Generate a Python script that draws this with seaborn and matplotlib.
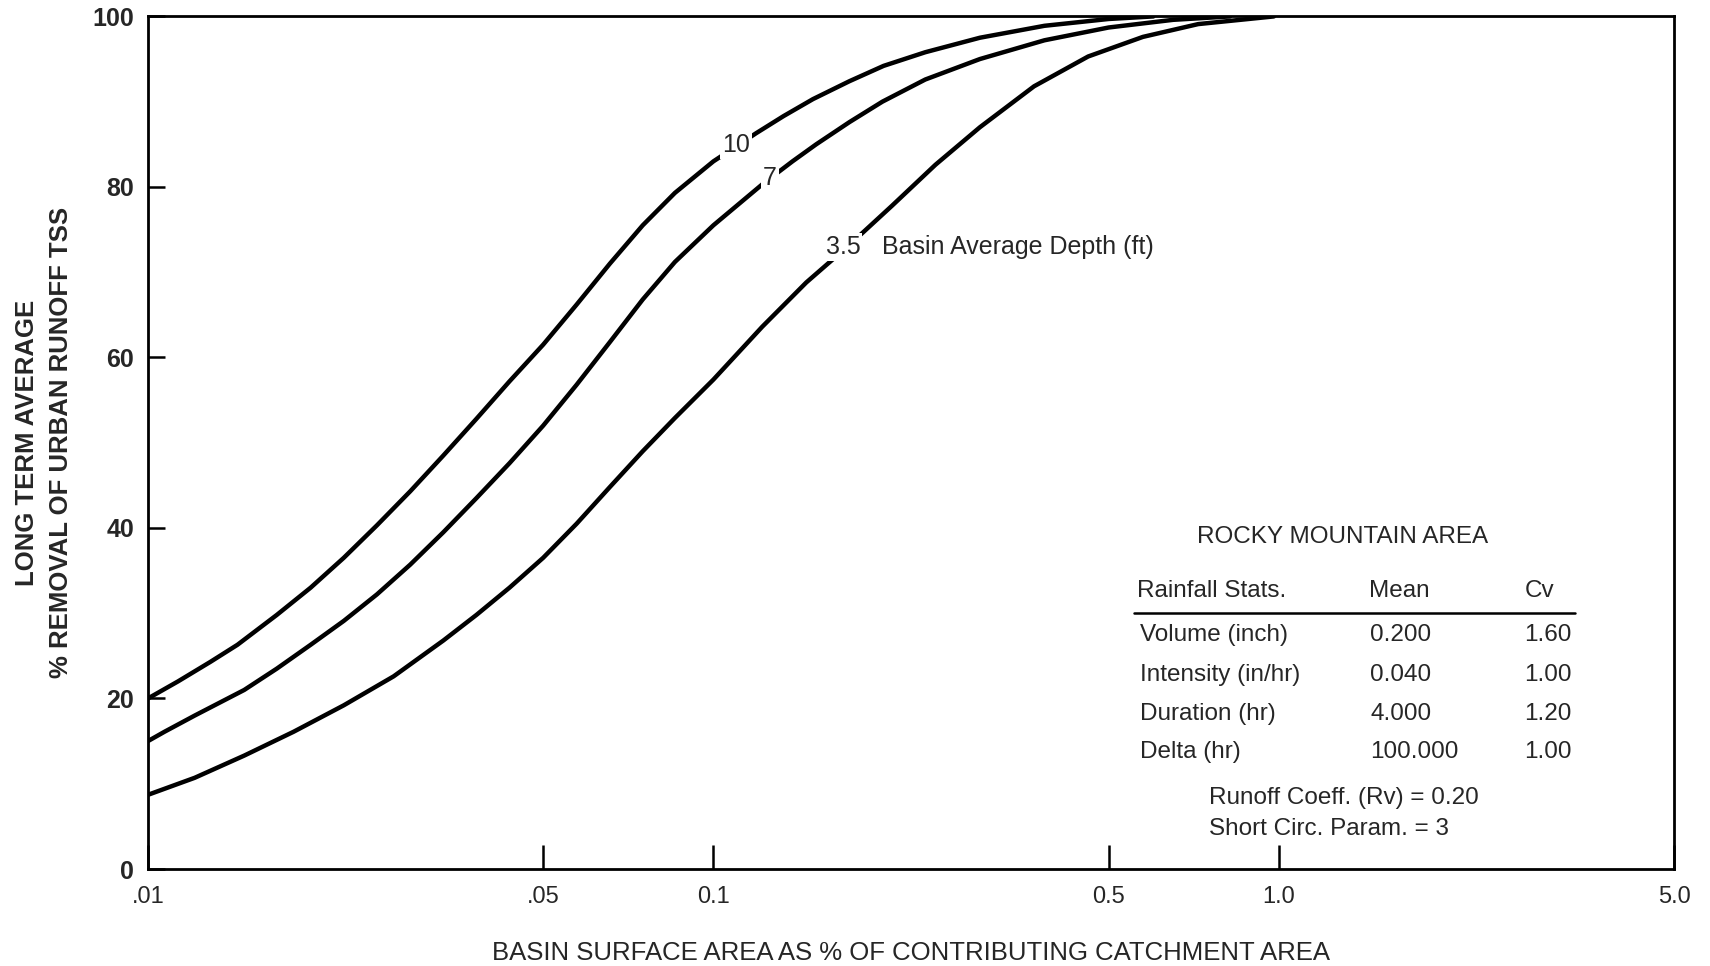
import matplotlib
matplotlib.use("Agg")
import matplotlib.pyplot as plt
import seaborn as sns
import pandas as pd

# basin surface area (% of catchment) vs long term TSS removal (%)
depth10_x = [0.01, 0.0113, 0.0129, 0.0144, 0.0169, 0.0194, 0.0222, 0.0254, 0.0291, 0.0333,
             0.0381, 0.0436, 0.05, 0.0573, 0.0656, 0.075, 0.0855, 0.1, 0.119, 0.133,
             0.15, 0.174, 0.2, 0.237, 0.296, 0.385, 0.5, 0.6]
depth10_y = [20, 22, 24.3, 26.3, 29.8, 33, 36.5, 40.3, 44.3, 48.5,
             52.8, 57.2, 61.5, 66.2, 71, 75.5, 79.3, 83, 86.3, 88.3,
             90.3, 92.4, 94.2, 95.8, 97.5, 98.9, 99.7, 100]

depth7_x = [0.01, 0.0107, 0.0121, 0.0148, 0.0169, 0.0194, 0.0222, 0.0254, 0.0291, 0.0333,
            0.0381, 0.0436, 0.05, 0.0573, 0.0656, 0.075, 0.0855, 0.1, 0.122, 0.138,
            0.152, 0.174, 0.199, 0.237, 0.296, 0.385, 0.5, 0.65, 0.82]
depth7_y = [15, 16.1, 18, 21, 23.5, 26.3, 29.1, 32.2, 35.7, 39.5,
            43.5, 47.6, 52, 56.8, 61.8, 66.8, 71.2, 75.5, 80.3, 83,
            85, 87.6, 90, 92.6, 95, 97.2, 98.7, 99.6, 100]

depth35_x = [0.01, 0.0121, 0.0148, 0.0181, 0.0222, 0.0272, 0.0333, 0.0381, 0.0436, 0.05,
             0.0573, 0.0656, 0.075, 0.0855, 0.1, 0.122, 0.146, 0.174, 0.207, 0.247,
             0.296, 0.369, 0.46, 0.575, 0.72, 0.98]
depth35_y = [8.7, 10.7, 13.3, 16.1, 19.2, 22.6, 26.8, 29.8, 33.0, 36.5,
             40.5, 44.8, 49, 52.9, 57.4, 63.6, 68.8, 73.2, 77.8, 82.6,
             87.0, 91.8, 95.3, 97.6, 99.1, 100]

x_ticks = [0.01, 0.05, 0.1, 0.5, 1.0, 5.0]
x_ticklabels = [".01", ".05", "0.1", "0.5", "1.0", "5.0"]
y_ticks = [0, 20, 40, 60, 80, 100]

stats_names = ["Volume (inch)", "Intensity (in/hr)", "Duration (hr)", "Delta (hr)"]
stats_mean = ["0.200", "0.040", "4.000", "100.000"]
stats_cv = ["1.60", "1.00", "1.20", "1.00"]

sns.set_style("white")
plt.rcParams["font.family"] = ["Liberation Sans", "DejaVu Sans"]

df = pd.concat([
    pd.DataFrame({"area": depth10_x, "removal": depth10_y, "depth": "10"}),
    pd.DataFrame({"area": depth7_x, "removal": depth7_y, "depth": "7"}),
    pd.DataFrame({"area": depth35_x, "removal": depth35_y, "depth": "3.5"}),
])

fig = plt.figure(figsize=(17.1, 9.66), dpi=100)
ax = fig.add_axes([0.0865, 0.1004, 0.8925, 0.8826])

sns.lineplot(data=df, x="area", y="removal", hue="depth",
             palette=["black", "black", "black"], linewidth=3.2,
             legend=False, sort=True, ax=ax)

ax.set_xscale("log")
ax.set_xlim(0.01, 5.0)
ax.set_ylim(0, 100)
ax.set_xticks(x_ticks)
ax.set_xticklabels(x_ticklabels)
ax.minorticks_off()
ax.set_yticks(y_ticks)
ax.tick_params(axis="x", bottom=True, direction="in", length=17, width=1.8,
               pad=12, labelsize=17, color="black")
ax.tick_params(axis="y", left=True, direction="in", length=12, width=1.8,
               pad=10, labelsize=18, color="black")
for lab in ax.get_yticklabels():
    lab.set_fontweight("bold")
for s in ax.spines.values():
    s.set_linewidth(2.0)
    s.set_color("black")

ax.set_xlabel("BASIN SURFACE AREA AS % OF CONTRIBUTING CATCHMENT AREA",
              fontsize=18.5, labelpad=24)
ax.set_ylabel("LONG TERM AVERAGE\n% REMOVAL OF URBAN RUNOFF TSS",
              fontsize=18.5, fontweight="bold", labelpad=14, linespacing=1.5)

# curve labels, white box breaks the line like the original
box = dict(facecolor="white", edgecolor="none", pad=1.5)
ax.text(0.1095, 84.9, "10", fontsize=18, ha="center", va="center", bbox=box)
ax.text(0.126, 81.0, "7", fontsize=18, ha="center", va="center", bbox=box)
ax.text(0.158, 73.0, "3.5", fontsize=18, ha="left", va="center", bbox=box)
ax.text(0.199, 73.0, "Basin Average Depth (ft)", fontsize=18, ha="left",
        va="center")

# rainfall stats block
tf = 17.5
ax.text(0.783, 0.390, "ROCKY MOUNTAIN AREA", transform=ax.transAxes,
        fontsize=tf, ha="center", va="center")
ax.text(0.648, 0.326, "Rainfall Stats.", transform=ax.transAxes, fontsize=tf, va="center")
ax.text(0.800, 0.326, "Mean", transform=ax.transAxes, fontsize=tf, va="center")
ax.text(0.902, 0.326, "Cv", transform=ax.transAxes, fontsize=tf, va="center")
ax.plot([0.646, 0.935], [0.300, 0.300], transform=ax.transAxes,
        color="black", linewidth=1.8)
row_y = [0.275, 0.228, 0.182, 0.137]
for name, mean, cv, yy in zip(stats_names, stats_mean, stats_cv, row_y):
    ax.text(0.650, yy, name, transform=ax.transAxes, fontsize=tf, va="center")
    ax.text(0.801, yy, mean, transform=ax.transAxes, fontsize=tf, va="center")
    ax.text(0.902, yy, cv, transform=ax.transAxes, fontsize=tf, va="center")
ax.text(0.695, 0.083, "Runoff Coeff. (Rv) = 0.20", transform=ax.transAxes,
        fontsize=tf, va="center")
ax.text(0.695, 0.047, "Short Circ. Param. = 3", transform=ax.transAxes,
        fontsize=tf, va="center")

fig.savefig("out.png", dpi=100)
